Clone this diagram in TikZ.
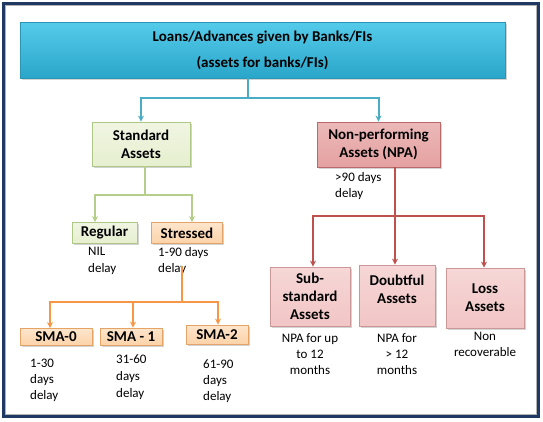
\documentclass[tikz,border=0pt]{standalone}
\usepackage{fontspec}
\setmainfont{Carlito}
\usetikzlibrary{arrows.meta,calc,shadows}
\definecolor{frameblue}{HTML}{1F3864}
\definecolor{cyantop}{HTML}{55CBEA}
\definecolor{cyanbot}{HTML}{2AA6CA}
\definecolor{cyanline}{HTML}{4BACC6}
\definecolor{cyanedge}{HTML}{2B95B5}
\definecolor{greenfill}{HTML}{E6EFCF}
\definecolor{greenedge}{HTML}{AFC785}
\definecolor{greenline}{HTML}{B5CE8A}
\definecolor{orfill}{HTML}{FCD3A9}
\definecolor{oredge}{HTML}{E4A467}
\definecolor{orline}{HTML}{F79646}
\definecolor{npafill}{HTML}{E5A1A1}
\definecolor{npaedge}{HTML}{B86A6A}
\definecolor{redline}{HTML}{C0504D}
\definecolor{pinkfill}{HTML}{F2C5C5}
\definecolor{pinkedge}{HTML}{CC9797}
\tikzset{
  box/.style={draw, line width=0.8pt, align=center, inner sep=0pt,
    font=\bfseries\fontsize{15}{18}\selectfont,
    drop shadow={shadow xshift=1.5pt, shadow yshift=-1.5pt, opacity=0.35, fill=gray}},
  topbox/.style={box, draw=cyanedge, top color=cyantop, bottom color=cyanbot},
  greenbox/.style={box, draw=greenedge, top color=greenfill!60!white, bottom color=greenfill},
  orbox/.style={box, draw=oredge, top color=orfill!60!white, bottom color=orfill},
  npabox/.style={box, draw=npaedge, top color=npafill!75!white, bottom color=npafill},
  pinkbox/.style={box, draw=pinkedge, top color=pinkfill!70!white, bottom color=pinkfill},
  boxtext/.style={align=center, inner sep=0pt, font=\bfseries\fontsize{15}{18}\selectfont},
  conn/.style={line width=2pt, -{Stealth[length=6pt,width=6pt]}},
  seg/.style={line width=2pt},
  note/.style={font=\fontsize{13}{16.5}\selectfont, inner sep=0pt, anchor=north west, align=left},
  cnote/.style={font=\fontsize{13}{16}\selectfont, inner sep=0pt, anchor=north, align=center},
}
\begin{document}
\begin{tikzpicture}[x=1pt,y=-1pt]
\useasboundingbox (0,0) rectangle (543,421);
% frame
\draw[gray!60, line width=1.2pt] (5.5,5.5) rectangle (536.5,414.5);
\draw[frameblue, line width=2.2pt] (3.5,3.5) rectangle (538.5,416.5);

% boxes
\node[topbox, minimum width=485pt, minimum height=56pt] (top) at (262.5,50)
  {Loans/Advances given by Banks/FIs\\[8pt](assets for banks/FIs)};
\node[greenbox, minimum width=98pt, minimum height=44pt] (std) at (141,144) {Standard\\Assets};
\node[npabox, minimum width=123pt, minimum height=45pt] (npa) at (378.5,144.5) {Non-performing\\Assets (NPA)};
\node[greenbox, minimum width=65pt, minimum height=21pt] (reg) at (104.5,233) {Regular};
\node[orbox, minimum width=71pt, minimum height=21pt] (str) at (187,233) {Stressed};
\node[orbox, minimum width=72pt, minimum height=17pt] (sma0) at (56,337) {SMA-0};
\node[orbox, minimum width=62pt, minimum height=17pt] (sma1) at (131,336.5) {SMA - 1};
\node[orbox, minimum width=62pt, minimum height=19pt] (sma2) at (217,334.5) {SMA-2};
\node[pinkbox, minimum width=80pt, minimum height=59pt] (sub) at (310,296.5) {Sub-\\standard\\Assets};
\node[pinkbox, minimum width=76pt, minimum height=61pt] (dbt) at (397,295.5) {};
\node[boxtext] (dbtt) at (397,289) {Doubtful\\Assets};
\node[pinkbox, minimum width=78pt, minimum height=60pt] (loss) at (485,298) {Loss\\Assets};

% notes
\node[note] (n1) at (88,247) {NIL\\delay};
\node[note] (n2) at (158,247) {1-90 days\\delay};
\node[note, font=\fontsize{13}{16}\selectfont] (n3) at (335,172) {>90 days\\delay};
\node[note, font=\fontsize{13}{16}\selectfont] (n4) at (30,359) {1-30\\days\\delay};
\node[note, font=\fontsize{13}{17}\selectfont] (n5) at (116,355) {31-60\\days\\delay};
\node[note, font=\fontsize{13}{16}\selectfont] (n6) at (203,360) {61-90\\days\\delay};
\node[cnote] (n7) at (310,333) {NPA for up\\to 12\\months};
\node[cnote] (n8) at (397,333) {NPA for\\> 12\\months};
\node[cnote] (n9) at (485,332) {Non\\recoverable};

% cyan connectors
\coordinate (t0) at ($(top.south)+(-14.5pt,0)$);
\coordinate (tj) at (248,98);
\draw[seg, cyanline] (t0) -- (tj);
\draw[conn, cyanline] (tj) -| (std.north);
\draw[conn, cyanline] (tj) -| (npa.north);

% green connectors
\coordinate (gj) at (145,195);
\draw[seg, greenline] (std.south -| gj) -- (gj);
\draw[conn, greenline] (gj) -| (reg.north -| 95,0);
\draw[conn, greenline] (gj) -| (str.north -| 192,0);

% orange connectors
\coordinate (o0) at (182,266);
\coordinate (oj) at (182,302);
\draw[seg, orline] (o0) -- (oj);
\draw[conn, orline] (oj) -| (sma0.north -| 50,0);
\draw[conn, orline] (oj) -| (sma1.north -| 133,0);
\draw[conn, orline] (oj) -| (sma2.north -| 218,0);

% red connectors
\coordinate (rj) at (395,216);
\draw[seg, redline] (npa.south -| rj) -- (rj);
\draw[conn, redline] (rj) -| (sub.north -| 313,0);
\draw[conn, redline] (rj) -- (dbt.north -| rj);
\draw[conn, redline] (rj) -| (loss.north -| 484,0);
\end{tikzpicture}
\end{document}
